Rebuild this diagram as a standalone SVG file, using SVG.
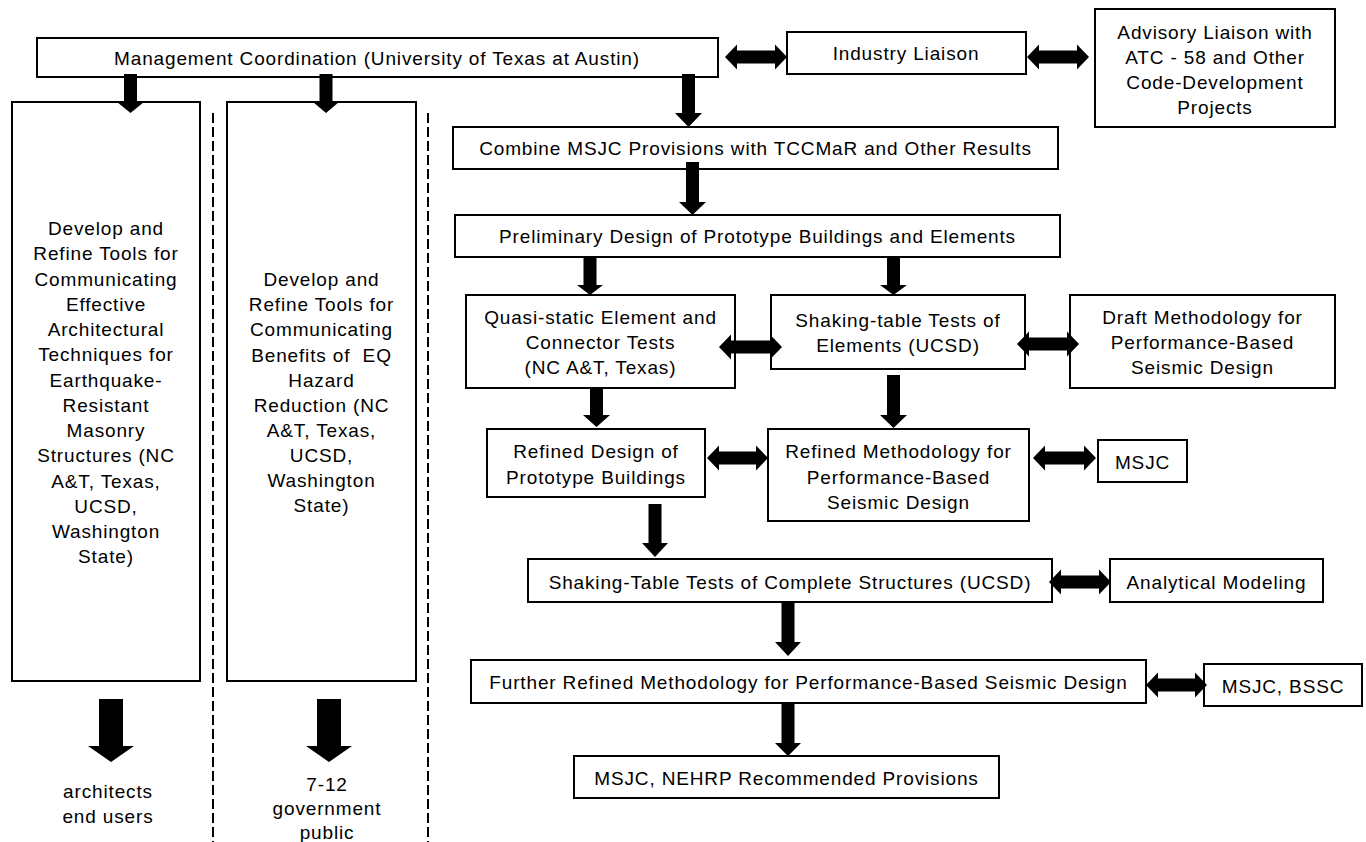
<svg xmlns="http://www.w3.org/2000/svg" width="1366" height="842" viewBox="0 0 1366 842">
<style>
.b{fill:#fff;stroke:#000;stroke-width:2}
.t{font-family:"Liberation Sans",Arial,sans-serif;font-size:19px;letter-spacing:0.85px;text-anchor:middle;fill:#000}
.a{fill:#000;stroke:none}
.d{stroke:#000;stroke-width:2;stroke-dasharray:10 4;fill:none}
</style>
<rect width="1366" height="842" fill="#fff"/>
<g id="dividers">
<line class="d" x1="213" y1="113" x2="213" y2="842"/>
<line class="d" x1="428" y1="113" x2="428" y2="842"/>
</g>
<g id="mgmt"><rect class="b" x="37" y="38" width="681" height="39"/><text class="t" x="377" y="65">Management Coordination (University of Texas at Austin)</text></g>
<g id="industry"><rect class="b" x="787" y="32" width="239" height="42"/><text class="t" x="906" y="60">Industry Liaison</text></g>
<g id="advisory"><rect class="b" x="1095" y="9" width="240" height="118"/>
<text class="t" x="1215" y="39">Advisory Liaison with</text>
<text class="t" x="1215" y="64">ATC - 58 and Other</text>
<text class="t" x="1215" y="89">Code-Development</text>
<text class="t" x="1215" y="114">Projects</text></g>
<g id="arch"><rect class="b" x="12" y="102" width="188" height="579"/>
<text class="t" x="106" y="235">Develop and</text>
<text class="t" x="106" y="260">Refine Tools for</text>
<text class="t" x="106" y="285.5">Communicating</text>
<text class="t" x="106" y="310.5">Effective</text>
<text class="t" x="106" y="336">Architectural</text>
<text class="t" x="106" y="361">Techniques for</text>
<text class="t" x="106" y="386.5">Earthquake-</text>
<text class="t" x="106" y="411.5">Resistant</text>
<text class="t" x="106" y="437">Masonry</text>
<text class="t" x="106" y="462">Structures (NC</text>
<text class="t" x="106" y="487.5">A&amp;T, Texas,</text>
<text class="t" x="106" y="512.5">UCSD,</text>
<text class="t" x="106" y="538">Washington</text>
<text class="t" x="106" y="563">State)</text></g>
<g id="hazard"><rect class="b" x="227" y="102" width="189" height="579"/>
<text class="t" x="321.5" y="286">Develop and</text>
<text class="t" x="321.5" y="311">Refine Tools for</text>
<text class="t" x="321.5" y="336">Communicating</text>
<text class="t" x="321.5" y="361.5">Benefits of&#160; EQ</text>
<text class="t" x="321.5" y="386.5">Hazard</text>
<text class="t" x="321.5" y="411.5">Reduction (NC</text>
<text class="t" x="321.5" y="437">A&amp;T, Texas,</text>
<text class="t" x="321.5" y="462">UCSD,</text>
<text class="t" x="321.5" y="487">Washington</text>
<text class="t" x="321.5" y="512">State)</text></g>
<g id="aud1"><text class="t" x="108" y="798">architects</text><text class="t" x="108" y="823">end users</text></g>
<g id="aud2"><text class="t" x="327" y="791">7-12</text><text class="t" x="327" y="815">government</text><text class="t" x="327" y="839">public</text></g>
<g id="combine"><rect class="b" x="453" y="127" width="605" height="42"/><text class="t" x="755.5" y="155">Combine MSJC Provisions with TCCMaR and Other Results</text></g>
<g id="prelim"><rect class="b" x="455" y="215" width="605" height="42"/><text class="t" x="757.5" y="243">Preliminary Design of Prototype Buildings and Elements</text></g>
<g id="quasi"><rect class="b" x="466" y="295" width="269" height="93"/>
<text class="t" x="600.5" y="324">Quasi-static Element and</text>
<text class="t" x="600.5" y="349">Connector Tests</text>
<text class="t" x="600.5" y="374">(NC A&amp;T, Texas)</text></g>
<g id="shaking"><rect class="b" x="771" y="295" width="254" height="74"/>
<text class="t" x="898" y="327">Shaking-table Tests of</text>
<text class="t" x="898" y="352">Elements (UCSD)</text></g>
<g id="draft"><rect class="b" x="1070" y="295" width="265" height="93"/>
<text class="t" x="1202.5" y="324">Draft Methodology for</text>
<text class="t" x="1202.5" y="349">Performance-Based</text>
<text class="t" x="1202.5" y="374">Seismic Design</text></g>
<g id="refdesign"><rect class="b" x="487" y="429" width="218" height="68"/>
<text class="t" x="596" y="458">Refined Design of</text>
<text class="t" x="596" y="484">Prototype Buildings</text></g>
<g id="refmethod"><rect class="b" x="768" y="429" width="261" height="92"/>
<text class="t" x="898.5" y="458">Refined Methodology for</text>
<text class="t" x="898.5" y="484">Performance-Based</text>
<text class="t" x="898.5" y="509">Seismic Design</text></g>
<g id="msjc"><rect class="b" x="1098" y="440" width="89" height="42"/><text class="t" x="1142.5" y="469">MSJC</text></g>
<g id="stcomplete"><rect class="b" x="528" y="559" width="524" height="43"/><text class="t" x="790" y="589">Shaking-Table Tests of Complete Structures (UCSD)</text></g>
<g id="analytical"><rect class="b" x="1110" y="559" width="213" height="43"/><text class="t" x="1216.5" y="589">Analytical Modeling</text></g>
<g id="further"><rect class="b" x="471" y="660" width="675" height="43"/><text class="t" x="808.5" y="689">Further Refined Methodology for Performance-Based Seismic Design</text></g>
<g id="bssc"><rect class="b" x="1204" y="664" width="158" height="42"/><text class="t" x="1283" y="693">MSJC, BSSC</text></g>
<g id="nehrp"><rect class="b" x="574" y="756" width="425" height="42"/><text class="t" x="786.5" y="785">MSJC, NEHRP Recommended Provisions</text></g>
<g id="connectors">
<polygon class="a" points="124,74 137,74 137,102 144,102 130.5,113 117,102 124,102"/>
<polygon class="a" points="319.5,74 332.5,74 332.5,102 339,102 326,113 313,102 319.5,102"/>
<polygon class="a" points="682,74 695,74 695,113 702,113 688.5,127 675,113 682,113"/>
<polygon class="a" points="686,162 699,162 699,202 706,202 692.5,215 679,202 686,202"/>
<polygon class="a" points="583.5,257 596.5,257 596.5,285 603,285 590,295 577,285 583.5,285"/>
<polygon class="a" points="887,257 900,257 900,285 907,285 893.5,295 880,285 887,285"/>
<polygon class="a" points="590,388 603,388 603,415 610,415 596.5,427 583,415 590,415"/>
<polygon class="a" points="887,375 900,375 900,415 907,415 893.5,428 880,415 887,415"/>
<polygon class="a" points="648.5,504 661.5,504 661.5,543 668,543 655,557 642,543 648.5,543"/>
<polygon class="a" points="781.5,602 794.5,602 794.5,642 801,642 788,656 775,642 781.5,642"/>
<polygon class="a" points="781.5,703 794.5,703 794.5,743 801,743 788,756 775,743 781.5,743"/>
<polygon class="a" points="99,699 123,699 123,746 134,746 111,762 88,746 99,746"/>
<polygon class="a" points="317,699 341,699 341,746 352,746 329,762 306,746 317,746"/>
<polygon class="a" points="725,57 737,44.5 737,50.5 775,50.5 775,44.5 787,57 775,69.5 775,63.5 737,63.5 737,69.5"/>
<polygon class="a" points="1027,57 1039,44.5 1039,50.5 1077,50.5 1077,44.5 1089,57 1077,69.5 1077,63.5 1039,63.5 1039,69.5"/>
<polygon class="a" points="719,347 731,334.5 731,340.5 770,340.5 770,334.5 782,347 770,359.5 770,353.5 731,353.5 731,359.5"/>
<polygon class="a" points="1017,344 1029,331.5 1029,337.5 1067,337.5 1067,331.5 1079,344 1067,356.5 1067,350.5 1029,350.5 1029,356.5"/>
<polygon class="a" points="707,458 719,445.5 719,451.5 756,451.5 756,445.5 768,458 756,470.5 756,464.5 719,464.5 719,470.5"/>
<polygon class="a" points="1033,458 1045,445.5 1045,451.5 1084,451.5 1084,445.5 1096,458 1084,470.5 1084,464.5 1045,464.5 1045,470.5"/>
<polygon class="a" points="1049,582 1061,569.5 1061,575.5 1099,575.5 1099,569.5 1111,582 1099,594.5 1099,588.5 1061,588.5 1061,594.5"/>
<polygon class="a" points="1146,685 1158,672.5 1158,678.5 1195,678.5 1195,672.5 1207,685 1195,697.5 1195,691.5 1158,691.5 1158,697.5"/>
</g>
</svg>
